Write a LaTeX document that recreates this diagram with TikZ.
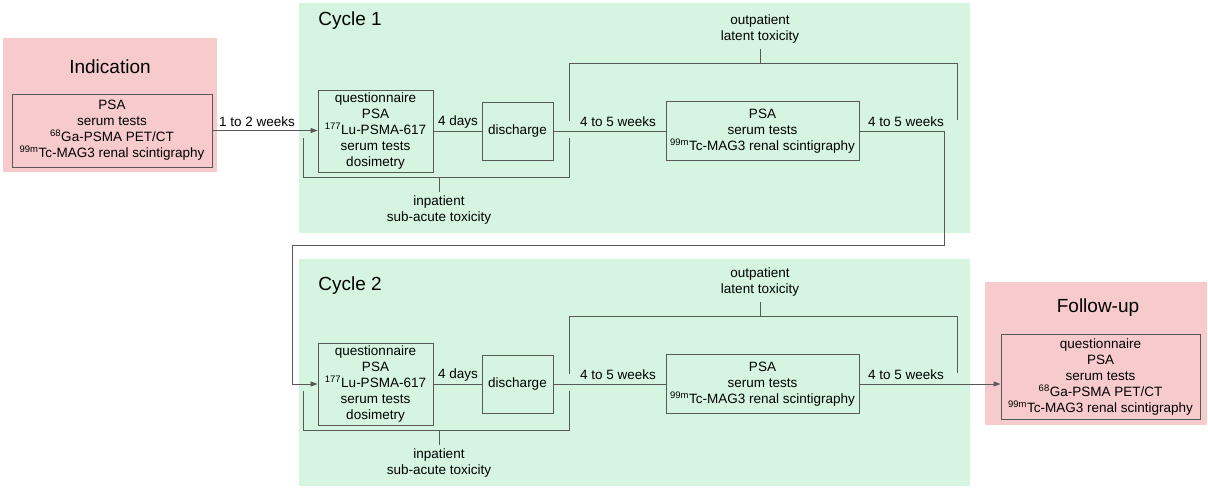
\documentclass[tikz,border=0pt]{standalone}
\usepackage{fontspec}
\setmainfont{Liberation Sans}
\usepackage{xcolor}
\usepackage{tikz}
\usetikzlibrary{positioning,calc,arrows.meta}

\definecolor{cyclegreen}{RGB}{213,245,224}
\definecolor{endpink}{RGB}{247,203,203}
\definecolor{linegray}{RGB}{88,88,88}
\newcommand{\stagefont}{\fontsize{13.5}{16}\selectfont}
\newcommand{\phasefont}{\fontsize{19}{22}\selectfont}

\begin{document}
\begin{tikzpicture}[x=1pt,y=-1pt,
    stage/.style={draw=linegray,line width=0.8pt,align=center,font=\stagefont,inner sep=0pt},
    phase/.style={font=\phasefont},
    lbl/.style={font=\stagefont,align=center},
    link/.style={draw=linegray,line width=0.8pt},
    >={Triangle[length=7pt,width=5pt]}]
    \useasboundingbox (0,0) rectangle (1208,490);

    % Backgrounds
    \fill[endpink] (3,38) rectangle (217,172);
    \fill[cyclegreen] (299,3) rectangle (970,233);
    \fill[cyclegreen] (299,259) rectangle (970,486);
    \fill[endpink] (985,282) rectangle (1207,425);

    % Indication
    \node[phase] (indtitle) at (110,67) {Indication};
    \node[stage,minimum width=200,minimum height=73] (ind) at (112,130.5)
        {PSA\\serum tests\\\textsuperscript{68}Ga-PSMA PET/CT\\\textsuperscript{99m}Tc-MAG3 renal scintigraphy};

    % Cycle 1
    \node[phase] (c1title) at (350,21) {Cycle 1};
    \node[stage,minimum width=115,minimum height=82] (q1) at (375.5,131)
        {questionnaire\\PSA\\\textsuperscript{177}Lu-PSMA-617\\serum tests\\dosimetry};
    \node[stage,minimum width=71,minimum height=58] (dis1) at (517.5,131) {discharge};
    \node[stage,minimum width=193,minimum height=59] (psa1) at (762.5,131)
        {PSA\\serum tests\\\textsuperscript{99m}Tc-MAG3 renal scintigraphy};
    \draw[link,->] (ind.east) -- (ind.east -| q1.west);
    \node[lbl] (w1) at (257,122) {1 to 2 weeks};
    \draw[link] (q1) -- (dis1);
    \node[lbl] (d1) at (458,122) {4 days};
    \draw[link] (dis1) -- (psa1);
    \node[lbl] (w2) at (618,122) {4 to 5 weeks};
    \node[lbl] (w3) at (906,122) {4 to 5 weeks};
    \draw[link] (303,138) -- (303,177) -- (569,177) -- (569,138);
    \draw[link] (439,177) -- (439,192);
    \node[lbl] (in1) at (439,210) {inpatient\\sub-acute toxicity};
    \draw[link] (569,121) -- (569,63) -- (957,63) -- (957,120);
    \draw[link] (760,63) -- (760,49);
    \node[lbl] (out1) at (760,29.5) {outpatient\\latent toxicity};

    % Cycle 2
    \node[phase] (c2title) at (350,286) {Cycle 2};
    \node[stage,minimum width=115,minimum height=82] (q2) at (375.5,384)
        {questionnaire\\PSA\\\textsuperscript{177}Lu-PSMA-617\\serum tests\\dosimetry};
    \node[stage,minimum width=71,minimum height=58] (dis2) at (517.5,384) {discharge};
    \node[stage,minimum width=193,minimum height=59] (psa2) at (762.5,384)
        {PSA\\serum tests\\\textsuperscript{99m}Tc-MAG3 renal scintigraphy};
    \draw[link] (q2) -- (dis2);
    \node[lbl] (d2) at (458,375) {4 days};
    \draw[link] (dis2) -- (psa2);
    \node[lbl] (w4) at (618,375) {4 to 5 weeks};
    \node[lbl] (w5) at (906,375) {4 to 5 weeks};
    \draw[link] (303,391) -- (303,430) -- (569,430) -- (569,391);
    \draw[link] (439,430) -- (439,445);
    \node[lbl] (in2) at (439,463) {inpatient\\sub-acute toxicity};
    \draw[link] (569,374) -- (569,316) -- (957,316) -- (957,373);
    \draw[link] (760,316) -- (760,302);
    \node[lbl] (out2) at (760,282.5) {outpatient\\latent toxicity};

    % Cycle 1 to Cycle 2
    \coordinate (drop) at (944,245);
    \coordinate (back) at (292,245);
    \draw[link,->] (psa1.east) -| (drop) -- (back) |- (q2.west);

    % Follow-up
    \node[phase] (futitle) at (1098,308) {Follow-up};
    \node[stage,minimum width=199,minimum height=85] (fu) at (1100.5,377)
        {questionnaire\\PSA\\serum tests\\\textsuperscript{68}Ga-PSMA PET/CT\\\textsuperscript{99m}Tc-MAG3 renal scintigraphy};
    \draw[link,->] (psa2.east) -- (psa2.east -| fu.west);
\end{tikzpicture}
\end{document}
